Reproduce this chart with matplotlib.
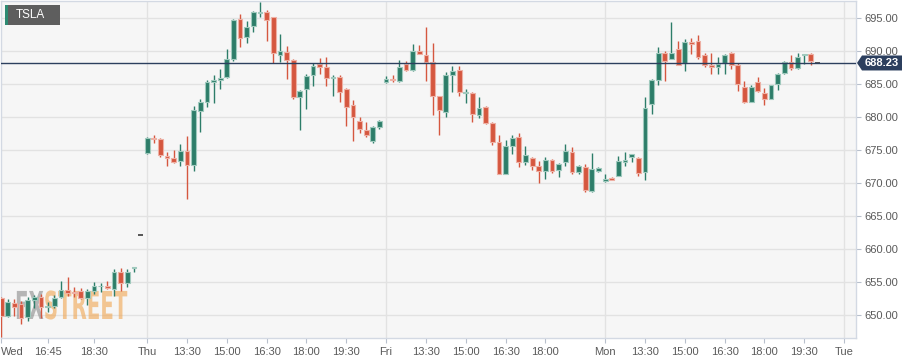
import matplotlib
matplotlib.use('Agg')
import matplotlib.pyplot as plt
from matplotlib.patches import Rectangle, Polygon, PathPatch
from matplotlib.textpath import TextPath
from matplotlib.font_manager import FontProperties
from matplotlib.transforms import Affine2D, blended_transform_factory

# 15-minute TSLA candles (index based, no gaps)
opens = [652.67, 649.94, 651.81, 651.66, 649.74, 652.37, 652.77, 651.26, 651.46, 652.77,
         653.83, 653.58, 653.63, 652.57, 653.68, 654.39, 654.44, 653.98, 656.61, 654.89,
         657.22, 662.20, 674.55, 676.87, 676.77, 674.19, 673.79, 673.43, 674.90, 672.73,
         680.96, 682.37, 685.30, 685.71, 686.16, 688.89, 694.85, 692.12, 693.84, 695.86,
         695.96, 695.15, 689.49, 689.90, 688.69, 683.13, 684.24, 686.46, 688.08, 687.58,
         685.91, 686.06, 684.34, 681.82, 679.44, 678.03, 676.36, 678.59, 685.30, 685.76,
         685.51, 688.08, 687.22, 690.05, 689.49, 688.43, 683.18, 680.76, 686.46, 687.22,
         683.69, 683.64, 680.40, 681.57, 679.14, 676.21, 671.46, 675.61, 677.02, 673.18,
         673.89, 672.68, 671.87, 673.48, 671.97, 673.18, 674.75, 671.67, 672.53, 668.89,
         671.87, 670.40, 670.81, 671.16, 673.28, 673.94, 673.89, 671.67, 682.02, 685.66,
         689.70, 688.89, 690.40, 688.18, 691.41, 691.52, 689.39, 687.88, 687.68, 688.18,
         689.70, 687.93, 684.55, 682.37, 685.40, 683.64, 682.83, 685.00, 686.67, 688.38,
         687.42, 689.49, 689.60, 688.23]
highs = [652.82, 652.47, 652.47, 652.17, 652.82, 653.08, 653.18, 651.97, 653.08, 655.20,
         655.75, 654.34, 654.09, 653.98, 655.10, 654.84, 655.20, 657.02, 657.12, 657.02,
         657.32, 662.20, 677.07, 677.27, 676.82, 674.70, 675.00, 675.96, 677.17, 681.72,
         682.73, 685.66, 686.46, 687.37, 690.30, 694.85, 695.61, 694.65, 696.16, 697.42,
         696.26, 695.25, 692.63, 690.81, 688.79, 684.14, 686.57, 688.18, 688.99, 689.09,
         686.46, 686.36, 684.44, 682.63, 680.00, 679.29, 678.69, 679.60, 686.26, 686.36,
         688.74, 688.48, 691.16, 691.01, 693.69, 691.26, 683.28, 686.87, 687.83, 687.78,
         684.34, 683.79, 683.08, 681.67, 679.24, 677.32, 676.52, 677.32, 677.63, 675.61,
         673.99, 673.33, 674.04, 673.69, 673.08, 676.01, 675.45, 672.78, 672.98, 674.60,
         672.47, 671.46, 670.91, 674.19, 674.80, 674.49, 673.99, 683.08, 685.86, 690.61,
         690.10, 694.49, 691.52, 691.82, 691.97, 692.42, 689.80, 689.70, 689.19, 689.60,
         689.85, 688.28, 685.45, 684.95, 686.06, 684.39, 684.95, 686.77, 688.59, 689.39,
         689.70, 689.65, 689.70, 688.23]
lows = [646.76, 649.75, 649.94, 648.73, 649.14, 651.06, 649.64, 650.45, 651.16, 652.67,
        652.97, 652.82, 652.47, 651.56, 653.28, 653.48, 653.93, 652.87, 653.63, 654.24,
        656.51, 662.20, 674.44, 676.06, 674.04, 672.58, 673.03, 672.68, 667.58, 671.92,
        677.73, 681.52, 682.12, 684.24, 685.96, 688.59, 690.61, 691.31, 692.98, 695.25,
        691.52, 688.28, 688.38, 685.76, 682.73, 678.08, 681.21, 684.75, 686.57, 684.75,
        683.23, 682.32, 678.69, 676.36, 677.58, 676.97, 676.06, 678.28, 685.15, 685.40,
        685.40, 687.02, 687.07, 689.55, 685.45, 680.30, 677.32, 680.05, 683.79, 683.28,
        682.17, 679.29, 679.85, 679.04, 675.81, 671.36, 671.36, 674.49, 672.47, 672.78,
        671.97, 670.05, 670.66, 671.57, 670.96, 672.58, 671.36, 671.36, 668.74, 668.74,
        671.77, 670.15, 670.45, 671.06, 672.68, 673.18, 671.16, 670.45, 680.51, 684.85,
        685.56, 688.79, 687.88, 687.07, 689.60, 688.79, 687.58, 686.57, 686.57, 686.57,
        687.37, 683.94, 682.12, 682.32, 683.84, 681.82, 682.83, 684.14, 686.57, 687.17,
        687.27, 688.08, 687.88, 688.23]
closes = [649.94, 652.07, 651.21, 649.64, 652.37, 652.77, 651.26, 651.36, 652.67, 653.78,
          653.38, 653.43, 652.67, 653.68, 654.39, 654.49, 654.09, 656.61, 654.94, 656.51,
          657.32, 662.20, 676.92, 676.77, 674.34, 673.84, 673.23, 674.90, 672.73, 681.11,
          682.32, 685.35, 685.61, 685.96, 688.79, 694.75, 691.97, 693.74, 696.01, 695.96,
          694.75, 689.80, 690.10, 688.69, 683.13, 683.99, 686.26, 687.78, 687.68, 685.91,
          686.11, 683.84, 681.62, 680.00, 678.28, 677.32, 678.59, 679.49, 685.81, 685.61,
          687.68, 687.17, 690.00, 689.60, 688.43, 683.18, 681.06, 686.46, 687.07, 683.84,
          683.89, 680.45, 681.41, 679.14, 676.31, 671.46, 675.61, 676.92, 673.18, 674.29,
          672.68, 671.87, 673.59, 671.87, 672.98, 674.95, 671.67, 672.68, 669.04, 672.22,
          672.27, 670.61, 670.51, 673.33, 673.48, 674.39, 671.57, 681.41, 685.66, 689.70,
          688.54, 689.70, 687.98, 691.41, 691.16, 689.09, 687.88, 687.68, 688.08, 689.49,
          687.88, 685.00, 682.37, 684.65, 684.04, 682.83, 684.85, 686.52, 688.38, 687.53,
          689.19, 689.65, 688.48, 688.23]

tick_idx = [0, 7, 14, 22, 28, 34, 40, 46, 52, 58, 64, 70, 76, 82, 91, 97, 103, 109, 115, 121, 127]
tick_labels = ['Wed', '16:45', '18:30', 'Thu', '13:30', '15:00', '16:30', '18:00', '19:30',
               'Fri', '13:30', '15:00', '16:30', '18:00', 'Mon', '13:30', '15:00', '16:30',
               '18:00', '19:30', 'Tue']
day_idx = [22, 58, 91, 127]
y_ticks = [650, 655, 660, 665, 670, 675, 680, 685, 690, 695]
symbol = 'TSLA'
last_price = 688.23

GREEN, GREEN_EDGE = '#2d7d69', '#9fc9bd'
RED, RED_EDGE = '#d5573f', '#eeb0a4'
NAVY = '#2c3f5e'
TXT = '#5a5a5a'

plt.rcParams['font.family'] = ['Liberation Sans', 'DejaVu Sans']

W, H = 921, 364
fig = plt.figure(figsize=(W / 100, H / 100), dpi=100)
fig.patch.set_facecolor('white')
ax = fig.add_axes([0.5 / W, (H - 338) / H, 855.5 / W, 337 / H])
ax.set_facecolor('#f6f6f6')

ax.set_xlim(-0.1, 128.8)
ax.set_ylim(646.56, 697.62)

for i in range(len(opens)):
    o, h, l, c = opens[i], highs[i], lows[i], closes[i]
    if c == o:
        ax.hlines(o, i - 0.33, i + 0.33, color='#555555', lw=1.4, zorder=3)
        continue
    col, edge = (GREEN, GREEN_EDGE) if c > o else (RED, RED_EDGE)
    ax.vlines(i, l, h, color=col, lw=1.0, zorder=3)
    lo, hi = min(o, c), max(o, c)
    ax.add_patch(Rectangle((i - 0.36, lo), 0.72, max(hi - lo, 0.12),
                           facecolor=col, edgecolor=edge, lw=0.8, zorder=4))

# grid
for y in y_ticks:
    ax.axhline(y, color='#e2e2e2', lw=1.0, zorder=1)
for d in day_idx:
    ax.axvline(d, color='#e2e2e2', lw=1.0, zorder=1)

# last price line + label
ax.axhline(last_price, color=NAVY, lw=1.0, zorder=5)
bt = blended_transform_factory(fig.transFigure, ax.transData)
hh = 7.5 / 6.6
ax.add_patch(Polygon([(857 / W, last_price), (862 / W, last_price + hh), (902 / W, last_price + hh),
                      (902 / W, last_price - hh), (862 / W, last_price - hh)],
                     closed=True, transform=bt, facecolor=NAVY, edgecolor='none', clip_on=False, zorder=6))
ax.text(882 / W, last_price, f'{last_price:.2f}', transform=bt, color='white', fontsize=8,
        fontweight='bold', ha='center', va='center', clip_on=False, zorder=7)

# axes styling
ax.set_xticks(tick_idx, tick_labels)
ax.xaxis.get_ticklabels()[0].set_horizontalalignment('left')
ax.yaxis.tick_right()
ax.set_yticks(y_ticks, [f'{v:.2f}' for v in y_ticks])
ax.tick_params(axis='both', colors='#b8c0cc', labelcolor=TXT, labelsize=8, length=3.3, width=0.8)
ax.tick_params(axis='x', pad=3)
ax.tick_params(axis='y', pad=2.5)
for s in ax.spines.values():
    s.set_color('#d3d9e3')
    s.set_linewidth(1.0)

# symbol box
fig.patches.append(Rectangle((5 / W, (H - 25) / H), 55 / W, 20 / H, transform=fig.transFigure,
                             facecolor='#5e5e5e', edgecolor='none', zorder=8))
fig.patches.append(Rectangle((5 / W, (H - 25) / H), 2.5 / W, 20 / H, transform=fig.transFigure,
                             facecolor='#2d8a72', edgecolor='none', zorder=9))
fig.text(16 / W, (H - 15) / H, symbol, color='white', fontsize=8.5, va='center', ha='left', zorder=10)

# watermark
fp = FontProperties(family='DejaVu Sans', weight='bold')
sx, sy = 19.8, 38.5
x0, ybase = 15, H - 319
p1 = TextPath((0, 0), 'FX', size=1, prop=fp)
w1 = p1.get_extents().x1
p2 = TextPath((0, 0), 'STREET', size=1, prop=fp)
for path, dx, col, a in [(p1, 0, '#8a8a8a', 0.6), (p2, w1 + 0.02, '#f0a550', 0.6)]:
    tr = Affine2D().translate(dx, 0).scale(sx / W, sy / H).translate(x0 / W, ybase / H) + fig.transFigure
    ax.add_patch(PathPatch(path, transform=tr, facecolor=col, edgecolor='none', alpha=a,
                           zorder=2, clip_on=False))

fig.savefig('out.png', dpi=100)
